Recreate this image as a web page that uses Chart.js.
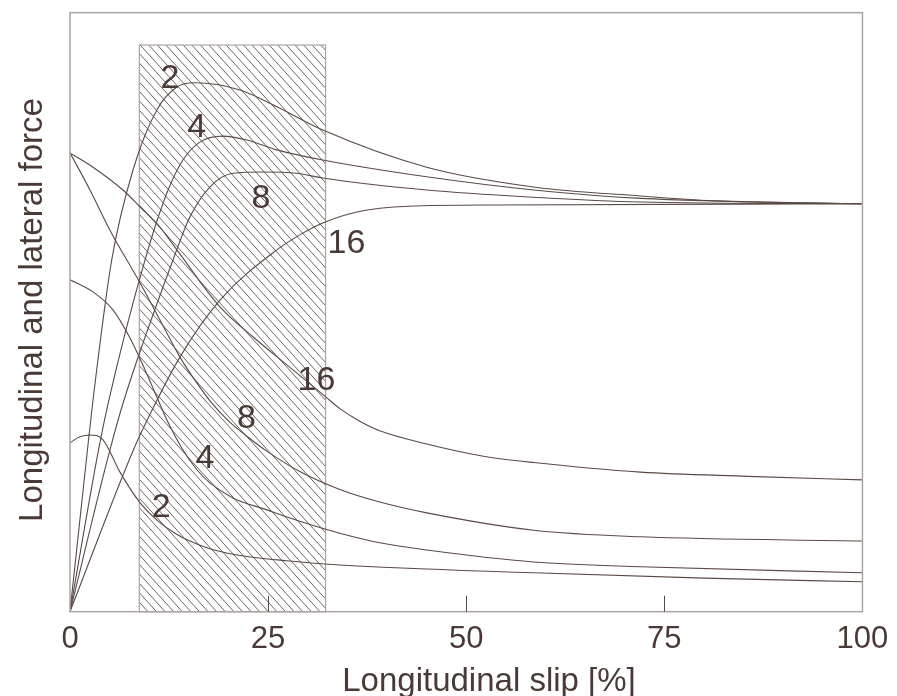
<!DOCTYPE html>
<html><head><meta charset="utf-8">
<script src="https://cdn.jsdelivr.net/npm/chart.js@4.4.1/dist/chart.umd.min.js"></script>
<style>html,body{margin:0;padding:0;background:#fff}#wrap{width:897px;height:696px;position:relative}</style>
</head><body><div id="wrap"><canvas id="c"></canvas></div>
<script>
// ---- data ----
const xTickValues = [0, 25, 50, 75, 100];
const xTickLabels = ['0', '25', '50', '75', '100'];
const xTitle = 'Longitudinal slip [%]';
const yTitle = 'Longitudinal and lateral force';

// longitudinal force curves (slip angle 2, 4, 8, 16)
const long2X = [0, 2.2, 2.9, 5.26, 7.94, 10.97, 13.49, 15.76, 21.44, 26.1, 31.9, 45.0, 58.5, 72.0, 81.1, 100];
const long2Y = [0, 27.0, 35.3, 58.7, 73.7, 83.8, 87.6, 88.3, 87.1, 84.3, 80.4, 74.2, 70.9, 69.4, 68.6, 68.1];
const long4X = [0, 3.6, 4.9, 9.46, 12.23, 14.25, 16.39, 19.29, 22.32, 26.1, 31.9, 45.0, 58.5, 72.0, 100];
const long4Y = [0, 27.0, 35.3, 58.7, 69.9, 75.4, 78.4, 79.4, 78.75, 77.1, 75.4, 72.6, 70.4, 69.0, 68.1];
const long8X = [0, 5.04, 6.81, 12.99, 15.13, 17.65, 20.56, 24.34, 28.63, 31.9, 45.0, 58.5, 72.0, 100];
const long8Y = [0, 27.0, 35.3, 58.7, 65.9, 70.9, 73.2, 73.4, 73.2, 72.4, 70.4, 69.2, 68.4, 68.1];
const long16X = [0, 8.0, 10.3, 13.87, 18.92, 26.1, 29.38, 31.9, 36.07, 42.75, 54.1, 100];
const long16Y = [0, 27.0, 33.5, 42.5, 52.0, 60.4, 63.2, 64.9, 66.7, 67.7, 67.9, 68.1];

// lateral force curves (slip angle 2, 4, 8, 16)
const lat2X = [0, 1.26, 2.52, 4.16, 6.31, 8.83, 10.97, 13.24, 15.13, 17.65, 20.56, 27.36, 34.05, 58.51, 80, 100];
const lat2Y = [28.2, 29.2, 29.5, 28.7, 23.3, 18.2, 15.3, 13.1, 11.8, 10.5, 9.6, 8.5, 7.8, 6.5, 5.6, 5.0];
const lat4X = [0, 2.90, 5.42, 7.57, 9.46, 10.97, 12.23, 14.12, 16.02, 17.65, 20.56, 24.84, 29.0, 34.05, 39.09, 45.02, 58.51, 72.0, 100];
const lat4Y = [55.4, 53.4, 50.4, 45.7, 40.4, 35.8, 32.0, 27.3, 23.7, 21.5, 19.0, 17.0, 15.1, 13.1, 11.5, 10.3, 8.3, 7.5, 6.5];
const lat8X = [0, 2.52, 5.04, 8.83, 11.35, 13.87, 16.0, 18.03, 20.2, 22.32, 24.84, 29.0, 34.05, 39.09, 45.02, 58.51, 72.0, 100];
const lat8Y = [76.6, 70.4, 63.7, 54.9, 48.7, 42.5, 38.2, 34.6, 31.6, 29.3, 26.8, 23.4, 20.4, 18.3, 16.5, 13.6, 12.5, 11.8];
const lat16X = [0, 2.90, 6.68, 8.83, 11.35, 13.49, 18.92, 23.08, 27.36, 32.16, 34.05, 36.57, 39.09, 45.02, 52.0, 58.51, 72.0, 85.6, 100];
const lat16Y = [76.6, 74.2, 70.4, 67.6, 64.2, 60.4, 50.9, 45.9, 41.2, 36.0, 33.9, 31.8, 30.2, 28.0, 26.0, 24.9, 23.3, 22.6, 22.0];

// shaded slip band
const hatchRange = [8.75, 32.25];
const hatchTop = 94.6;

// curve labels (slip angle) anchored in data units (baseline)
const curveLabels = ['2', '4', '8', '16', '16', '8', '4', '2'];
const curveLabelX = [12.61, 15.98, 24.09, 34.89, 31.11, 22.28, 17.02, 11.51];
const curveLabelY = [87.38, 79.30, 67.35, 59.83, 37.01, 30.62, 23.94, 15.86];

// ---- chart ----
const FONT = '"Liberation Sans", Arial, Helvetica, sans-serif';
const TEXT = '#4a3a35';
const LINE = '#5a4a45';
const FRAME = '#aca4a1';

const series = [
  [long2X, long2Y], [long4X, long4Y], [long8X, long8Y], [long16X, long16Y],
  [lat2X, lat2Y], [lat4X, lat4Y], [lat8X, lat8Y], [lat16X, lat16Y]
];
const datasets = series.map(([xs, ys]) => ({
  data: xs.map((x, i) => ({x: x, y: ys[i]})),
  showLine: true, pointRadius: 0, borderColor: LINE, borderWidth: 1.1,
  cubicInterpolationMode: 'monotone', fill: false
}));

const decor = {
  id: 'decor',
  beforeDatasetsDraw(chart) {
    const {ctx, scales: {x, y}} = chart;
    const l = x.getPixelForValue(hatchRange[0]), r = x.getPixelForValue(hatchRange[1]);
    const t = y.getPixelForValue(hatchTop), b = y.getPixelForValue(0);
    ctx.save();
    ctx.beginPath(); ctx.rect(l, t, r - l, b - t); ctx.clip();
    ctx.strokeStyle = '#6e6460'; ctx.lineWidth = 1;
    const slope = 1.1, sp = 8.6, h = b - t;
    ctx.beginPath();
    for (let x0 = l - h / slope; x0 < r + sp; x0 += sp) { ctx.moveTo(x0, t); ctx.lineTo(x0 + h / slope, b); }
    ctx.stroke();
    ctx.restore();
    ctx.save();
    ctx.strokeStyle = FRAME; ctx.lineWidth = 1.2;
    ctx.strokeRect(l, t, r - l, b - t);
    ctx.restore();
  },
  afterDatasetsDraw(chart) {
    const {ctx, chartArea: a, scales: {x, y}} = chart;
    ctx.save();
    ctx.strokeStyle = FRAME; ctx.lineWidth = 1.5;
    ctx.strokeRect(a.left, a.top, a.right - a.left, a.bottom - a.top);
    ctx.strokeStyle = LINE; ctx.lineWidth = 1;
    ctx.beginPath();
    xTickValues.forEach(v => {
      if (v > x.min && v < x.max) {
        const px = Math.round(x.getPixelForValue(v)) + 0.5;
        ctx.moveTo(px, a.bottom); ctx.lineTo(px, a.bottom - 16);
      }
    });
    ctx.stroke();
    ctx.fillStyle = TEXT;
    ctx.font = '34px ' + FONT;
    ctx.textAlign = 'center'; ctx.textBaseline = 'alphabetic';
    curveLabels.forEach((s, i) => {
      ctx.fillText(s, x.getPixelForValue(curveLabelX[i]), y.getPixelForValue(curveLabelY[i]));
    });
    ctx.font = '33px ' + FONT;
    ctx.fillText(xTitle, 489, 690.7);
    ctx.translate(41.7, 310);
    ctx.rotate(-Math.PI / 2);
    ctx.fillText(yTitle, 0, 0);
    ctx.restore();
  }
};

new Chart(document.getElementById('c'), {
  type: 'scatter',
  data: {datasets: datasets},
  options: {
    responsive: true, maintainAspectRatio: false, animation: false,
    layout: {padding: {top: 12.7, right: 34, left: 0, bottom: 0}},
    plugins: {legend: {display: false}, tooltip: {enabled: false}},
    scales: {
      x: {
        type: 'linear', min: 0, max: 100,
        afterBuildTicks: s => { s.ticks = xTickValues.map(v => ({value: v})); },
        afterFit: s => { s.height = 84.3; },
        ticks: {
          callback: (v, i) => xTickLabels[i],
          font: {family: FONT, size: 31}, color: TEXT, padding: 8.7, maxRotation: 0, autoSkip: false
        },
        grid: {display: false, drawTicks: false}, border: {display: false}
      },
      y: {
        type: 'linear', min: 0, max: 100,
        afterFit: s => { s.width = 70; },
        ticks: {display: false},
        grid: {display: false, drawTicks: false}, border: {display: false}
      }
    }
  },
  plugins: [decor]
});
</script>
</body></html>
